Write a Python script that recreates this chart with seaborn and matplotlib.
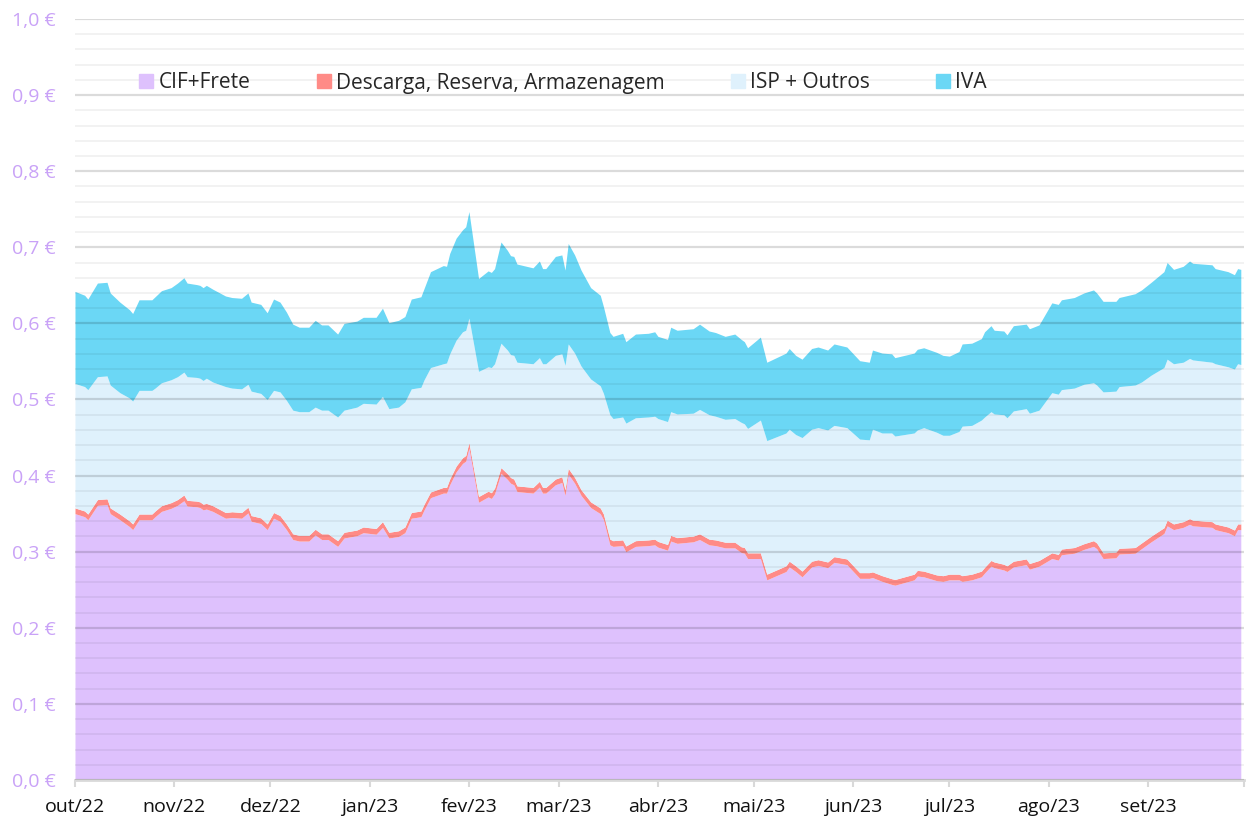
import numpy as np
import pandas as pd
import matplotlib
matplotlib.use("Agg")
import matplotlib.pyplot as plt
from matplotlib.lines import Line2D
from matplotlib.ticker import MultipleLocator, FuncFormatter
import seaborn as sns

# days since 1 Oct 2022
days = [0, 3, 4, 7, 10, 11, 14, 17, 18, 20, 24, 25, 27, 30, 32, 34, 35, 38, 39, 40,
        41, 43, 47, 49, 52, 54, 55, 58, 60, 62, 64, 66, 68, 70, 73, 75, 77, 79, 82, 84,
        88, 90, 94,
        96, 98, 101, 103, 105, 108, 109, 111, 115, 116, 117, 119, 121, 122, 123, 126, 129, 130, 131, 133,
        135, 136, 137, 138, 143, 145, 146, 147, 150, 152, 153, 154, 156, 158, 161, 164, 165, 167, 168, 171,
        172, 175, 179, 181, 182, 185, 186, 188,
        193, 195, 198, 200, 203, 206, 208, 209, 210, 214, 216, 222, 223, 225, 227, 230, 232, 235, 237, 241,
        245, 248, 249, 252, 255, 256, 262, 263, 265, 269, 271, 273, 276, 277, 280, 283,
        284, 286, 287, 290, 291, 293, 297, 298, 301, 305, 307, 308, 312, 315, 318, 319, 321, 325, 326, 331,
        333, 336, 340, 341, 343, 346, 348, 349, 355, 356, 360, 362, 363, 364]

# top of the CIF+Frete layer (EUR/l)
cif = [0.350, 0.346, 0.342, 0.361, 0.362, 0.350, 0.342, 0.333, 0.329, 0.342, 0.342, 0.346, 0.353, 0.357, 0.361, 0.367, 0.360, 0.359, 0.358, 0.355,
       0.356, 0.353, 0.344, 0.345, 0.344, 0.351, 0.340, 0.337, 0.329, 0.344, 0.340, 0.329, 0.316, 0.314, 0.314, 0.322, 0.316, 0.316, 0.307, 0.318,
       0.321, 0.325, 0.323,
       0.332, 0.318, 0.320, 0.325, 0.344, 0.346, 0.355, 0.371, 0.377, 0.377, 0.388, 0.405, 0.416, 0.419, 0.436, 0.365, 0.372, 0.370, 0.376, 0.403,
       0.395, 0.390, 0.388, 0.379, 0.377, 0.385, 0.377, 0.377, 0.388, 0.391, 0.374, 0.402, 0.390, 0.374, 0.358, 0.350, 0.342, 0.309, 0.307, 0.308,
       0.300, 0.307, 0.308, 0.309, 0.306, 0.302, 0.314, 0.311,
       0.313, 0.316, 0.309, 0.308, 0.305, 0.305, 0.299, 0.298, 0.291, 0.291, 0.263, 0.274, 0.280, 0.274, 0.267, 0.280, 0.282, 0.279, 0.286, 0.283,
       0.265, 0.265, 0.266, 0.261, 0.257, 0.256, 0.263, 0.268, 0.267, 0.262, 0.261, 0.263, 0.263, 0.261, 0.263, 0.267,
       0.272, 0.281, 0.279, 0.276, 0.274, 0.280, 0.283, 0.277, 0.281, 0.291, 0.289, 0.296, 0.298, 0.303, 0.307, 0.304, 0.291, 0.292, 0.297, 0.298,
       0.304, 0.313, 0.324, 0.334, 0.329, 0.332, 0.336, 0.334, 0.332, 0.329, 0.325, 0.321, 0.329, 0.329]

# Descarga, Reserva, Armazenagem: thin band of roughly constant height
descarga = 0.0075

# top of the ISP + Outros layer
isp_top = [0.521, 0.517, 0.513, 0.530, 0.531, 0.519, 0.509, 0.502, 0.498, 0.512, 0.512, 0.515, 0.522, 0.526, 0.530, 0.536, 0.530, 0.529, 0.528, 0.525,
           0.528, 0.523, 0.517, 0.515, 0.514, 0.520, 0.511, 0.508, 0.500, 0.512, 0.510, 0.499, 0.486, 0.484, 0.484, 0.490, 0.486, 0.486, 0.477, 0.486,
           0.490, 0.495, 0.494,
           0.504, 0.488, 0.490, 0.497, 0.514, 0.516, 0.526, 0.542, 0.547, 0.548, 0.560, 0.578, 0.589, 0.591, 0.607, 0.537, 0.543, 0.542, 0.547, 0.574,
           0.565, 0.559, 0.558, 0.549, 0.547, 0.555, 0.547, 0.547, 0.558, 0.560, 0.545, 0.573, 0.561, 0.544, 0.527, 0.518, 0.508, 0.480, 0.475, 0.477,
           0.469, 0.476, 0.477, 0.478, 0.475, 0.471, 0.484, 0.481,
           0.482, 0.487, 0.480, 0.478, 0.474, 0.475, 0.470, 0.468, 0.462, 0.473, 0.446, 0.456, 0.461, 0.454, 0.450, 0.461, 0.463, 0.460, 0.466, 0.463,
           0.448, 0.447, 0.461, 0.456, 0.456, 0.452, 0.456, 0.460, 0.463, 0.457, 0.453, 0.453, 0.458, 0.465, 0.466, 0.473,
           0.477, 0.484, 0.481, 0.480, 0.476, 0.485, 0.488, 0.482, 0.486, 0.509, 0.507, 0.513, 0.515, 0.520, 0.522, 0.519, 0.510, 0.511, 0.517, 0.519,
           0.523, 0.532, 0.542, 0.553, 0.547, 0.549, 0.554, 0.552, 0.549, 0.547, 0.543, 0.540, 0.547, 0.546]

# top of the IVA layer (final price)
total_top = [0.642, 0.637, 0.632, 0.653, 0.654, 0.640, 0.628, 0.618, 0.613, 0.631, 0.631, 0.635, 0.643, 0.647, 0.653, 0.660, 0.653, 0.651, 0.650, 0.647,
             0.650, 0.645, 0.636, 0.634, 0.633, 0.640, 0.628, 0.625, 0.614, 0.632, 0.628, 0.615, 0.599, 0.595, 0.595, 0.604, 0.598, 0.598, 0.586, 0.600,
             0.603, 0.608, 0.608,
             0.620, 0.601, 0.604, 0.609, 0.632, 0.635, 0.646, 0.668, 0.676, 0.675, 0.692, 0.712, 0.723, 0.727, 0.747, 0.659, 0.669, 0.667, 0.672, 0.707,
             0.696, 0.689, 0.688, 0.678, 0.673, 0.682, 0.672, 0.672, 0.688, 0.690, 0.670, 0.705, 0.690, 0.670, 0.647, 0.637, 0.622, 0.588, 0.583, 0.587,
             0.576, 0.586, 0.587, 0.589, 0.583, 0.579, 0.595, 0.591,
             0.593, 0.599, 0.590, 0.588, 0.583, 0.586, 0.579, 0.576, 0.568, 0.582, 0.549, 0.561, 0.567, 0.558, 0.553, 0.567, 0.569, 0.565, 0.573, 0.569,
             0.551, 0.549, 0.565, 0.561, 0.560, 0.555, 0.561, 0.566, 0.568, 0.562, 0.558, 0.557, 0.563, 0.573, 0.574, 0.580,
             0.589, 0.597, 0.591, 0.590, 0.585, 0.597, 0.599, 0.593, 0.598, 0.627, 0.625, 0.631, 0.634, 0.640, 0.644, 0.640, 0.629, 0.629, 0.634, 0.639,
             0.644, 0.654, 0.668, 0.680, 0.671, 0.675, 0.682, 0.679, 0.677, 0.672, 0.668, 0.664, 0.672, 0.671]

labels = ["CIF+Frete", "Descarga, Reserva, Armazenagem", "ISP + Outros", "IVA"]
colors = ["#DEC1FD", "#FF8B87", "#DFF1FC", "#6BD7F5"]
month_labels = ["out/22", "nov/22", "dez/22", "jan/23", "fev/23", "mar/23", "abr/23",
                "mai/23", "jun/23", "jul/23", "ago/23", "set/23", ""]

start = pd.Timestamp("2022-10-01")
dates = start + pd.to_timedelta(days, unit="D")
cif = np.array(cif)
isp_top = np.array(isp_top)
total_top = np.array(total_top)
desc = np.full(len(cif), descarga)
isp = isp_top - cif - desc
iva = total_top - isp_top

sns.set_style("white")
plt.rcParams["font.family"] = ["Open Sans", "DejaVu Sans"]

fig = plt.figure(figsize=(12.47, 8.18), dpi=100)
ax = fig.add_axes([75 / 1247, 1 - 780 / 818, (1244 - 75) / 1247, (780 - 19) / 818])

ax.stackplot(dates, cif, desc, isp, iva, colors=colors, linewidth=0)

ax.set_ylim(0, 1.0)
ax.set_xlim(start, pd.Timestamp("2023-10-01"))
ax.yaxis.set_major_locator(MultipleLocator(0.1))
ax.yaxis.set_minor_locator(MultipleLocator(0.02))
ax.yaxis.set_major_formatter(FuncFormatter(lambda v, p: f"{v:.1f}".replace(".", ",") + " €"))
ax.set_axisbelow(False)
ax.grid(which="major", axis="y", color="black", alpha=0.14, linewidth=1.6)
ax.grid(which="minor", axis="y", color="black", alpha=0.05, linewidth=1.4)
ax.grid(which="both", axis="x", visible=False)

ticks = pd.date_range("2022-10-01", "2023-10-01", freq="MS")
ax.set_xticks(ticks)
ax.set_xticklabels(month_labels)

for side in ["top", "right", "left"]:
    ax.spines[side].set_visible(False)
ax.spines["bottom"].set_color("#d9d9d9")
ax.spines["bottom"].set_linewidth(2)

ax.tick_params(axis="x", which="major", length=5, width=1.5, color="#d9d9d9",
               labelsize=14, labelcolor="#111111", pad=8, bottom=True)
ax.tick_params(axis="y", which="both", length=0, labelsize=14, labelcolor="#C9A2F7", pad=14)

handles = [Line2D([0], [0], marker="s", linestyle="", markersize=10,
                  markerfacecolor=c, markeredgecolor=c) for c in colors]
fig.legend(handles, labels, loc="center left", bbox_to_anchor=(140 / 1247, 1 - 83 / 818),
           ncol=4, frameon=False, fontsize=15, handlelength=0.6, handletextpad=0.3,
           columnspacing=3.2, borderpad=0, borderaxespad=0)

fig.savefig("out.png", dpi=100)
